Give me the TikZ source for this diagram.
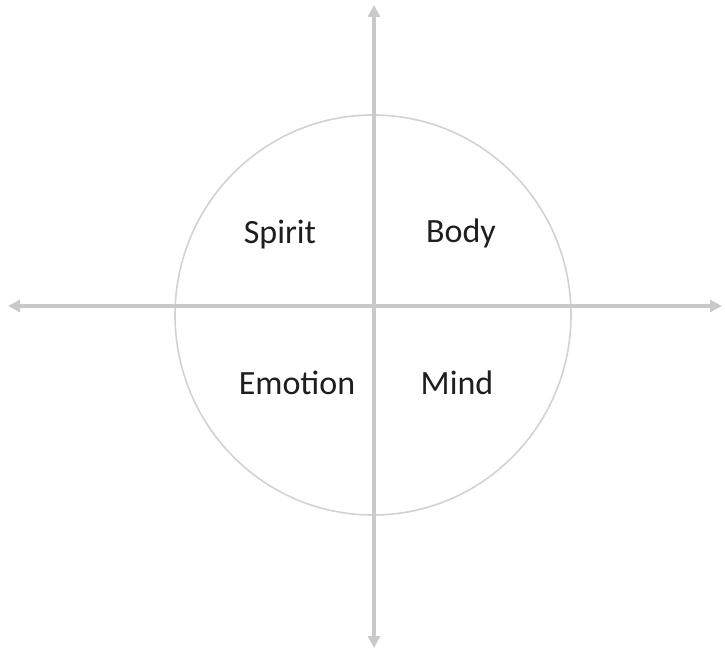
\documentclass[tikz,border=0pt]{standalone}
\usepackage{fontspec}
\setmainfont{Carlito}
\usepackage{tikz}
\usetikzlibrary{arrows.meta,positioning}
\usepackage{xcolor}
\definecolor{AxisGray}{HTML}{C9C9C9}
\definecolor{RingGray}{HTML}{D2D2D2}
\definecolor{InkGray}{HTML}{1E1E1E}

\begin{document}
\begin{tikzpicture}[x=1pt,y=1pt,>={Triangle[length=12pt,width=12pt]}]
  \useasboundingbox (0,0) rectangle (725,651);
  \tikzset{axisline/.style={<->,AxisGray,line width=3.5pt},
    quarter/.style={font=\fontsize{34}{40}\selectfont,text=InkGray,inner sep=0pt}}
  \coordinate (c) at (373,336);
  \coordinate (top) at (374,646);
  \coordinate (bot) at (374,3);
  \coordinate (lft) at (8,345);
  \coordinate (rgt) at (722,345);
  \draw[RingGray,line width=1.6pt] (c) ellipse (198 and 200);
  \draw[axisline] (bot) -- (top);
  \draw[axisline] (lft) -- (rgt);
  % quadrant labels
  \node[quarter] (spirit) at (280,416) {Spirit};
  \node[quarter] (body) at (461,418) {Body};
  \node[quarter] (emotion) at (297,268) {Emotion};
  \node[quarter] (mind) at (457,268) {Mind};
\end{tikzpicture}
\end{document}
